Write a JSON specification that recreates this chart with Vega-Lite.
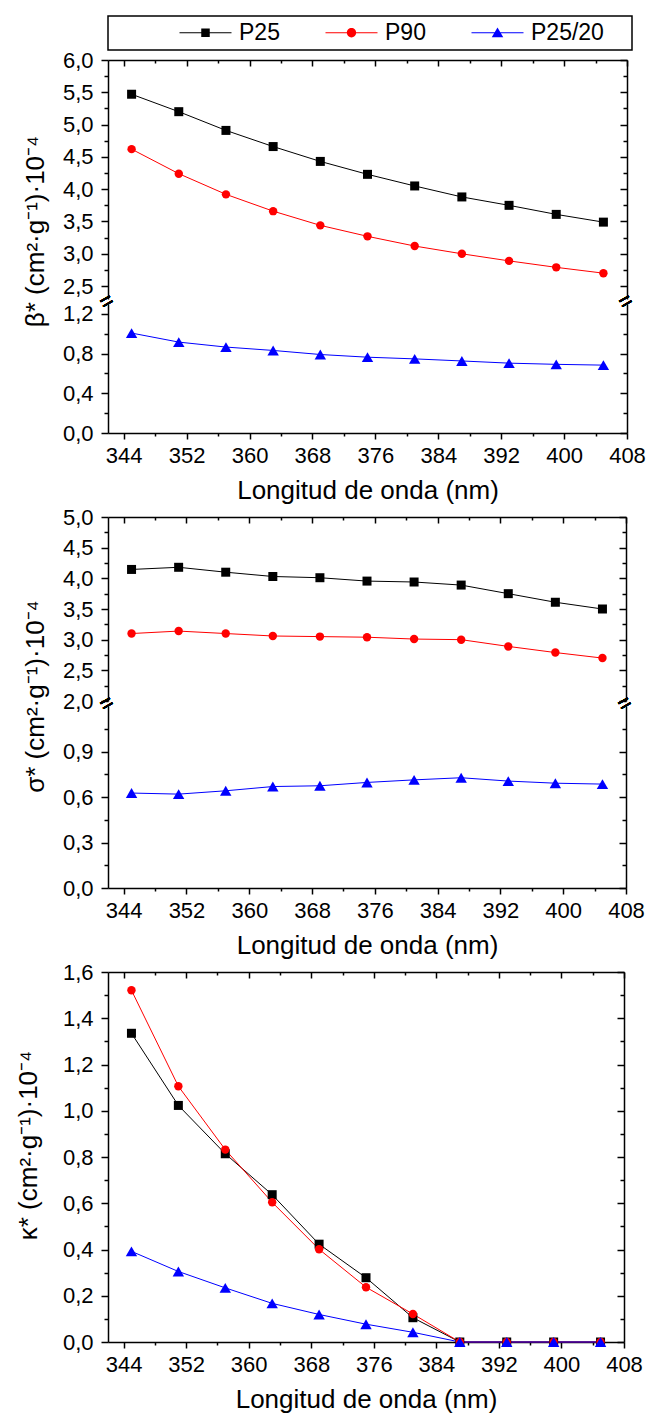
{
  "$schema": "https://vega.github.io/schema/vega-lite/v6.json",
  "background": "white",
  "padding": {"left": 15, "top": 15, "right": 5, "bottom": 5},
  "datasets": {
    "beta": [
      {"wl": 345, "series": "P25", "value": 5.47}, {"wl": 351, "series": "P25", "value": 5.20}, {"wl": 357, "series": "P25", "value": 4.91}, {"wl": 363, "series": "P25", "value": 4.66}, {"wl": 369, "series": "P25", "value": 4.43}, {"wl": 375, "series": "P25", "value": 4.23}, {"wl": 381, "series": "P25", "value": 4.05}, {"wl": 387, "series": "P25", "value": 3.88}, {"wl": 393, "series": "P25", "value": 3.75}, {"wl": 399, "series": "P25", "value": 3.61}, {"wl": 405, "series": "P25", "value": 3.49},
      {"wl": 345, "series": "P90", "value": 4.62}, {"wl": 351, "series": "P90", "value": 4.24}, {"wl": 357, "series": "P90", "value": 3.92}, {"wl": 363, "series": "P90", "value": 3.66}, {"wl": 369, "series": "P90", "value": 3.44}, {"wl": 375, "series": "P90", "value": 3.27}, {"wl": 381, "series": "P90", "value": 3.12}, {"wl": 387, "series": "P90", "value": 3.00}, {"wl": 393, "series": "P90", "value": 2.89}, {"wl": 399, "series": "P90", "value": 2.79}, {"wl": 405, "series": "P90", "value": 2.70},
      {"wl": 345, "series": "P25/20", "value": 1.007}, {"wl": 351, "series": "P25/20", "value": 0.916}, {"wl": 357, "series": "P25/20", "value": 0.866}, {"wl": 363, "series": "P25/20", "value": 0.832}, {"wl": 369, "series": "P25/20", "value": 0.791}, {"wl": 375, "series": "P25/20", "value": 0.764}, {"wl": 381, "series": "P25/20", "value": 0.747}, {"wl": 387, "series": "P25/20", "value": 0.726}, {"wl": 393, "series": "P25/20", "value": 0.704}, {"wl": 399, "series": "P25/20", "value": 0.692}, {"wl": 405, "series": "P25/20", "value": 0.684}
    ],
    "sigma": [
      {"wl": 345, "series": "P25", "value": 4.145}, {"wl": 351, "series": "P25", "value": 4.18}, {"wl": 357, "series": "P25", "value": 4.10}, {"wl": 363, "series": "P25", "value": 4.03}, {"wl": 369, "series": "P25", "value": 4.01}, {"wl": 375, "series": "P25", "value": 3.955}, {"wl": 381, "series": "P25", "value": 3.94}, {"wl": 387, "series": "P25", "value": 3.89}, {"wl": 393, "series": "P25", "value": 3.75}, {"wl": 399, "series": "P25", "value": 3.61}, {"wl": 405, "series": "P25", "value": 3.50},
      {"wl": 345, "series": "P90", "value": 3.10}, {"wl": 351, "series": "P90", "value": 3.14}, {"wl": 357, "series": "P90", "value": 3.10}, {"wl": 363, "series": "P90", "value": 3.06}, {"wl": 369, "series": "P90", "value": 3.05}, {"wl": 375, "series": "P90", "value": 3.04}, {"wl": 381, "series": "P90", "value": 3.01}, {"wl": 387, "series": "P90", "value": 3.00}, {"wl": 393, "series": "P90", "value": 2.89}, {"wl": 399, "series": "P90", "value": 2.79}, {"wl": 405, "series": "P90", "value": 2.70},
      {"wl": 345, "series": "P25/20", "value": 0.626}, {"wl": 351, "series": "P25/20", "value": 0.619}, {"wl": 357, "series": "P25/20", "value": 0.641}, {"wl": 363, "series": "P25/20", "value": 0.669}, {"wl": 369, "series": "P25/20", "value": 0.674}, {"wl": 375, "series": "P25/20", "value": 0.696}, {"wl": 381, "series": "P25/20", "value": 0.713}, {"wl": 387, "series": "P25/20", "value": 0.727}, {"wl": 393, "series": "P25/20", "value": 0.705}, {"wl": 399, "series": "P25/20", "value": 0.691}, {"wl": 405, "series": "P25/20", "value": 0.685}
    ],
    "kappa": [
      {"wl": 345, "series": "P25", "value": 1.335}, {"wl": 351, "series": "P25", "value": 1.023}, {"wl": 357, "series": "P25", "value": 0.814}, {"wl": 363, "series": "P25", "value": 0.637}, {"wl": 369, "series": "P25", "value": 0.423}, {"wl": 375, "series": "P25", "value": 0.278}, {"wl": 381, "series": "P25", "value": 0.105}, {"wl": 387, "series": "P25", "value": 0}, {"wl": 393, "series": "P25", "value": 0}, {"wl": 399, "series": "P25", "value": 0}, {"wl": 405, "series": "P25", "value": 0},
      {"wl": 345, "series": "P90", "value": 1.521}, {"wl": 351, "series": "P90", "value": 1.106}, {"wl": 357, "series": "P90", "value": 0.832}, {"wl": 363, "series": "P90", "value": 0.604}, {"wl": 369, "series": "P90", "value": 0.401}, {"wl": 375, "series": "P90", "value": 0.237}, {"wl": 381, "series": "P90", "value": 0.121}, {"wl": 387, "series": "P90", "value": 0}, {"wl": 393, "series": "P90", "value": 0}, {"wl": 399, "series": "P90", "value": 0}, {"wl": 405, "series": "P90", "value": 0},
      {"wl": 345, "series": "P25/20", "value": 0.392}, {"wl": 351, "series": "P25/20", "value": 0.305}, {"wl": 357, "series": "P25/20", "value": 0.234}, {"wl": 363, "series": "P25/20", "value": 0.167}, {"wl": 369, "series": "P25/20", "value": 0.119}, {"wl": 375, "series": "P25/20", "value": 0.077}, {"wl": 381, "series": "P25/20", "value": 0.042}, {"wl": 387, "series": "P25/20", "value": 0}, {"wl": 393, "series": "P25/20", "value": 0}, {"wl": 399, "series": "P25/20", "value": 0}, {"wl": 405, "series": "P25/20", "value": 0}
    ]
  },
  "spacing": 3,
  "resolve": {"scale": {"color": "independent"}, "legend": {"color": "independent"}},
  "vconcat": [
    {
      "bounds": "flush",
      "spacing": 5,
      "resolve": {"scale": {"color": "independent"}, "legend": {"color": "independent"}},
      "vconcat": [
        {
          "width": 519, "height": 239,
          "data": {"name": "beta"},
          "resolve": {"axis": {"x": "independent", "y": "independent"}},
          "layer": [
            {
              "transform": [{"filter": "datum.series !== 'P25/20'"}],
              "mark": {"type": "line", "strokeWidth": 1},
              "encoding": {
                "x": {"field": "wl", "type": "quantitative", "scale": {"domain": [342, 408], "nice": false, "zero": false}, "axis": null},
                "y": {"field": "value", "type": "quantitative", "scale": {"domain": [2.3, 6.0], "nice": false, "zero": false},
                  "axis": {"orient": "left", "values": [2.5, 2.75, 3, 3.25, 3.5, 3.75, 4, 4.25, 4.5, 4.75, 5, 5.25, 5.5, 5.75, 6],
                    "labelExpr": "abs(datum.value*2-round(datum.value*2))<0.001 ? replace(format(datum.value,'.1f'),'.',',') : ''",
                    "tickSize": {"condition": {"test": "abs(datum.value*2-round(datum.value*2))<0.001", "value": 7}, "value": 4},
                    "labelPadding": 8, "title": "β* (cm²·g⁻¹)·10⁻⁴", "titlePadding": 14, "titleY": 171}},
                "color": {"field": "series", "type": "nominal",
                  "scale": {"domain": ["P25", "P90", "P25/20"], "range": ["#000000", "#ff0000", "#0000ff"]},
                  "legend": {
                    "orient": "none", "legendX": 0, "legendY": -44, "direction": "horizontal",
                    "title": " ", "titleOrient": "left", "titleFontSize": 10, "titlePadding": 81,
                    "strokeColor": "#000000", "padding": 5, "symbolSize": 100,
                    "labelFont": "Liberation Sans", "labelFontSize": 23, "labelColor": "#000000",
                    "labelOffset": 22, "columnPadding": 45,
                    "encode": {
                      "legend": {"update": {"stroke": {"value": "#000000"}, "strokeWidth": {"value": 1.5}}},
                      "labels": {"update": {"text": {"signal": "datum.label === 'P25/20' ? datum.label + '\u2002\u2002\u200b' : datum.label"}}},
                      "symbols": {"update": {
                        "shape": {"signal": "datum.value === 'P25' ? 'M-5.2,-0.1H5.2V0.1H-5.2ZM-0.85,-0.85H0.85V0.85H-0.85Z' : datum.value === 'P90' ? 'M-5.2,-0.1H5.2V0.1H-5.2ZM0.93,0A0.93,0.93,0,1,1,-0.93,0A0.93,0.93,0,1,1,0.93,0Z' : 'M-5.2,-0.1H5.2V0.1H-5.2ZM0,-1.05L1.15,0.9H-1.15Z'"},
                        "fill": {"signal": "datum.value === 'P25' ? '#000000' : datum.value === 'P90' ? '#ff0000' : '#0000ff'"},
                        "strokeWidth": {"value": 0},
                        "opacity": {"value": 1},
                        "fillOpacity": {"value": 1}
                      }}
                    }
                  }}
              }
            },
            {
              "transform": [{"filter": "datum.series === 'P25'"}],
              "mark": {"type": "point", "shape": "square", "filled": true, "color": "#000000", "size": 81, "opacity": 1, "strokeWidth": 0},
              "encoding": {
                "x": {"field": "wl", "type": "quantitative", "scale": {"domain": [342, 408], "nice": false, "zero": false},
                  "axis": {"orient": "top", "values": [344, 348, 352, 356, 360, 364, 368, 372, 376, 380, 384, 388, 392, 396, 400, 404, 408], "labels": false, "title": null,
                    "tickSize": {"condition": {"test": "datum.value % 8 === 0", "value": -6}, "value": -3}}},
                "y": {"field": "value", "type": "quantitative", "scale": {"domain": [2.3, 6.0], "nice": false, "zero": false},
                  "axis": {"orient": "right", "values": [2.5, 2.75, 3, 3.25, 3.5, 3.75, 4, 4.25, 4.5, 4.75, 5, 5.25, 5.5, 5.75, 6], "labels": false, "title": null,
                    "tickSize": {"condition": {"test": "abs(datum.value*2-round(datum.value*2))<0.001", "value": -7}, "value": -4}}}
              }
            },
            {
              "transform": [{"filter": "datum.series === 'P90'"}],
              "mark": {"type": "point", "shape": "circle", "filled": true, "color": "#ff0000", "size": 71, "opacity": 1, "strokeWidth": 0},
              "encoding": {
                "x": {"field": "wl", "type": "quantitative", "scale": {"domain": [342, 408], "nice": false, "zero": false}, "axis": null},
                "y": {"field": "value", "type": "quantitative", "scale": {"domain": [2.3, 6.0], "nice": false, "zero": false}, "axis": null}
              }
            }
          ]
        },
        {
          "width": 519, "height": 129,
          "data": {"name": "beta"},
          "transform": [{"filter": "datum.series === 'P25/20'"}],
          "resolve": {"axis": {"x": "independent", "y": "independent"}},
          "layer": [
            {
              "mark": {"type": "line", "strokeWidth": 1, "color": "#0000ff"},
              "encoding": {
                "x": {"field": "wl", "type": "quantitative", "scale": {"domain": [342, 408], "nice": false, "zero": false},
                  "axis": {"orient": "bottom", "values": [344, 348, 352, 356, 360, 364, 368, 372, 376, 380, 384, 388, 392, 396, 400, 404, 408], "format": "d",
                    "labelExpr": "datum.value % 8 === 0 ? datum.label : ''",
                    "tickSize": {"condition": {"test": "datum.value % 8 === 0", "value": 6}, "value": 3},
                    "labelPadding": 6, "title": "Longitud de onda (nm)", "titlePadding": 11}},
                "y": {"field": "value", "type": "quantitative", "scale": {"domain": [0, 1.3], "nice": false, "zero": false},
                  "axis": {"orient": "left", "values": [0, 0.2, 0.4, 0.6, 0.8, 1.0, 1.2],
                    "labelExpr": "abs(datum.value/0.4-round(datum.value/0.4))<0.001 ? replace(format(datum.value,'.1f'),'.',',') : ''",
                    "tickSize": {"condition": {"test": "abs(datum.value/0.4-round(datum.value/0.4))<0.001", "value": 7}, "value": 4},
                    "labelPadding": 8, "title": null}}
              }
            },
            {
              "mark": {"type": "point", "shape": "triangle-up", "filled": true, "color": "#0000ff", "size": 130, "opacity": 1, "strokeWidth": 0},
              "encoding": {
                "x": {"field": "wl", "type": "quantitative", "scale": {"domain": [342, 408], "nice": false, "zero": false}, "axis": null},
                "y": {"field": "value", "type": "quantitative", "scale": {"domain": [0, 1.3], "nice": false, "zero": false},
                  "axis": {"orient": "right", "values": [0, 0.2, 0.4, 0.6, 0.8, 1.0, 1.2], "labels": false, "title": null,
                    "tickSize": {"condition": {"test": "abs(datum.value/0.4-round(datum.value/0.4))<0.001", "value": -7}, "value": -4}}}
              }
            },
            {
              "mark": {"type": "text", "text": "=", "angle": -30, "fontSize": 22, "font": "Liberation Sans", "color": "#000000", "dy": -3},
              "encoding": {
                "x": {"datum": 342, "type": "quantitative", "axis": null},
                "y": {"datum": 1.3, "type": "quantitative", "axis": null}
              }
            },
            {
              "mark": {"type": "text", "text": "=", "angle": -30, "fontSize": 22, "font": "Liberation Sans", "color": "#000000", "dy": -3},
              "encoding": {
                "x": {"datum": 408, "type": "quantitative", "axis": null},
                "y": {"datum": 1.3, "type": "quantitative", "axis": null}
              }
            }
          ]
        }
      ]
    },
    {
      "bounds": "flush",
      "spacing": 5,
      "vconcat": [
        {
          "width": 518, "height": 184,
          "data": {"name": "sigma"},
          "resolve": {"axis": {"x": "independent", "y": "independent"}},
          "layer": [
            {
              "transform": [{"filter": "datum.series === 'P25'"}],
              "mark": {"type": "line", "strokeWidth": 1, "color": "#000000"},
              "encoding": {
                "x": {"field": "wl", "type": "quantitative", "scale": {"domain": [342, 408], "nice": false, "zero": false}, "axis": null},
                "y": {"field": "value", "type": "quantitative", "scale": {"domain": [2.0, 5.0], "nice": false, "zero": false},
                  "axis": {"orient": "left", "values": [2, 2.25, 2.5, 2.75, 3, 3.25, 3.5, 3.75, 4, 4.25, 4.5, 4.75, 5],
                    "labelExpr": "abs(datum.value*2-round(datum.value*2))<0.001 ? replace(format(datum.value,'.1f'),'.',',') : ''",
                    "tickSize": {"condition": {"test": "abs(datum.value*2-round(datum.value*2))<0.001", "value": 7}, "value": 4},
                    "labelPadding": 8, "title": "σ* (cm²·g⁻¹)·10⁻⁴", "titlePadding": 14, "titleY": 179}}
              }
            },
            {
              "transform": [{"filter": "datum.series === 'P90'"}],
              "mark": {"type": "line", "strokeWidth": 1, "color": "#ff0000"},
              "encoding": {
                "x": {"field": "wl", "type": "quantitative", "scale": {"domain": [342, 408], "nice": false, "zero": false},
                  "axis": {"orient": "top", "values": [344, 348, 352, 356, 360, 364, 368, 372, 376, 380, 384, 388, 392, 396, 400, 404, 408], "labels": false, "title": null,
                    "tickSize": {"condition": {"test": "datum.value % 8 === 0", "value": -6}, "value": -3}}},
                "y": {"field": "value", "type": "quantitative", "scale": {"domain": [2.0, 5.0], "nice": false, "zero": false},
                  "axis": {"orient": "right", "values": [2, 2.25, 2.5, 2.75, 3, 3.25, 3.5, 3.75, 4, 4.25, 4.5, 4.75, 5], "labels": false, "title": null,
                    "tickSize": {"condition": {"test": "abs(datum.value*2-round(datum.value*2))<0.001", "value": -7}, "value": -4}}}
              }
            },
            {
              "transform": [{"filter": "datum.series === 'P25'"}],
              "mark": {"type": "point", "shape": "square", "filled": true, "color": "#000000", "size": 81, "opacity": 1, "strokeWidth": 0},
              "encoding": {
                "x": {"field": "wl", "type": "quantitative", "scale": {"domain": [342, 408], "nice": false, "zero": false}, "axis": null},
                "y": {"field": "value", "type": "quantitative", "scale": {"domain": [2.0, 5.0], "nice": false, "zero": false}, "axis": null}
              }
            },
            {
              "transform": [{"filter": "datum.series === 'P90'"}],
              "mark": {"type": "point", "shape": "circle", "filled": true, "color": "#ff0000", "size": 71, "opacity": 1, "strokeWidth": 0},
              "encoding": {
                "x": {"field": "wl", "type": "quantitative", "scale": {"domain": [342, 408], "nice": false, "zero": false}, "axis": null},
                "y": {"field": "value", "type": "quantitative", "scale": {"domain": [2.0, 5.0], "nice": false, "zero": false}, "axis": null}
              }
            }
          ]
        },
        {
          "width": 518, "height": 182,
          "data": {"name": "sigma"},
          "transform": [{"filter": "datum.series === 'P25/20'"}],
          "resolve": {"axis": {"x": "independent", "y": "independent"}},
          "layer": [
            {
              "mark": {"type": "line", "strokeWidth": 1, "color": "#0000ff"},
              "encoding": {
                "x": {"field": "wl", "type": "quantitative", "scale": {"domain": [342, 408], "nice": false, "zero": false},
                  "axis": {"orient": "bottom", "values": [344, 348, 352, 356, 360, 364, 368, 372, 376, 380, 384, 388, 392, 396, 400, 404, 408], "format": "d",
                    "labelExpr": "datum.value % 8 === 0 ? datum.label : ''",
                    "tickSize": {"condition": {"test": "datum.value % 8 === 0", "value": 6}, "value": 3},
                    "labelPadding": 6, "title": "Longitud de onda (nm)", "titlePadding": 11}},
                "y": {"field": "value", "type": "quantitative", "scale": {"domain": [0, 1.2], "nice": false, "zero": false},
                  "axis": {"orient": "left", "values": [0, 0.15, 0.3, 0.45, 0.6, 0.75, 0.9, 1.05],
                    "labelExpr": "abs(datum.value/0.3-round(datum.value/0.3))<0.001 ? replace(format(datum.value,'.1f'),'.',',') : ''",
                    "tickSize": {"condition": {"test": "abs(datum.value/0.3-round(datum.value/0.3))<0.001", "value": 7}, "value": 4},
                    "labelPadding": 8, "title": null}}
              }
            },
            {
              "mark": {"type": "point", "shape": "triangle-up", "filled": true, "color": "#0000ff", "size": 130, "opacity": 1, "strokeWidth": 0},
              "encoding": {
                "x": {"field": "wl", "type": "quantitative", "scale": {"domain": [342, 408], "nice": false, "zero": false}, "axis": null},
                "y": {"field": "value", "type": "quantitative", "scale": {"domain": [0, 1.2], "nice": false, "zero": false},
                  "axis": {"orient": "right", "values": [0, 0.15, 0.3, 0.45, 0.6, 0.75, 0.9, 1.05], "labels": false, "title": null,
                    "tickSize": {"condition": {"test": "abs(datum.value/0.3-round(datum.value/0.3))<0.001", "value": -7}, "value": -4}}}
              }
            },
            {
              "mark": {"type": "text", "text": "=", "angle": -30, "fontSize": 22, "font": "Liberation Sans", "color": "#000000", "dy": -3},
              "encoding": {
                "x": {"datum": 342, "type": "quantitative", "axis": null},
                "y": {"datum": 1.2, "type": "quantitative", "axis": null}
              }
            },
            {
              "mark": {"type": "text", "text": "=", "angle": -30, "fontSize": 22, "font": "Liberation Sans", "color": "#000000", "dy": -3},
              "encoding": {
                "x": {"datum": 408, "type": "quantitative", "axis": null},
                "y": {"datum": 1.2, "type": "quantitative", "axis": null}
              }
            }
          ]
        }
      ]
    },
    {
      "width": 516, "height": 370,
      "data": {"name": "kappa"},
      "resolve": {"axis": {"x": "independent", "y": "independent"}},
      "layer": [
        {
          "transform": [{"filter": "datum.series === 'P25'"}],
          "mark": {"type": "line", "strokeWidth": 1, "color": "#000000"},
          "encoding": {
            "x": {"field": "wl", "type": "quantitative", "scale": {"domain": [342, 408], "nice": false, "zero": false},
              "axis": {"orient": "bottom", "values": [344, 348, 352, 356, 360, 364, 368, 372, 376, 380, 384, 388, 392, 396, 400, 404, 408], "format": "d",
                "labelExpr": "datum.value % 8 === 0 ? datum.label : ''",
                "tickSize": {"condition": {"test": "datum.value % 8 === 0", "value": 6}, "value": 3},
                "labelPadding": 6, "title": "Longitud de onda (nm)", "titlePadding": 11}},
            "y": {"field": "value", "type": "quantitative", "scale": {"domain": [0, 1.6], "nice": false, "zero": false},
              "axis": {"orient": "left", "values": [0, 0.1, 0.2, 0.3, 0.4, 0.5, 0.6, 0.7, 0.8, 0.9, 1.0, 1.1, 1.2, 1.3, 1.4, 1.5, 1.6],
                "labelExpr": "abs(datum.value/0.2-round(datum.value/0.2))<0.001 ? replace(format(datum.value,'.1f'),'.',',') : ''",
                "tickSize": {"condition": {"test": "abs(datum.value/0.2-round(datum.value/0.2))<0.001", "value": 7}, "value": 4},
                "labelPadding": 8, "title": "κ* (cm²·g⁻¹)·10⁻⁴", "titlePadding": 21, "titleY": 173}}
          }
        },
        {
          "transform": [{"filter": "datum.series === 'P90'"}],
          "mark": {"type": "line", "strokeWidth": 1, "color": "#ff0000"},
          "encoding": {
            "x": {"field": "wl", "type": "quantitative", "scale": {"domain": [342, 408], "nice": false, "zero": false},
              "axis": {"orient": "top", "values": [344, 348, 352, 356, 360, 364, 368, 372, 376, 380, 384, 388, 392, 396, 400, 404, 408], "labels": false, "title": null,
                "tickSize": {"condition": {"test": "datum.value % 8 === 0", "value": -6}, "value": -3}}},
            "y": {"field": "value", "type": "quantitative", "scale": {"domain": [0, 1.6], "nice": false, "zero": false},
              "axis": {"orient": "right", "values": [0, 0.1, 0.2, 0.3, 0.4, 0.5, 0.6, 0.7, 0.8, 0.9, 1.0, 1.1, 1.2, 1.3, 1.4, 1.5, 1.6], "labels": false, "title": null,
                "tickSize": {"condition": {"test": "abs(datum.value/0.2-round(datum.value/0.2))<0.001", "value": -7}, "value": -4}}}
          }
        },
        {
          "transform": [{"filter": "datum.series === 'P25/20'"}],
          "mark": {"type": "line", "strokeWidth": 1, "color": "#0000ff"},
          "encoding": {
            "x": {"field": "wl", "type": "quantitative", "scale": {"domain": [342, 408], "nice": false, "zero": false}, "axis": null},
            "y": {"field": "value", "type": "quantitative", "scale": {"domain": [0, 1.6], "nice": false, "zero": false}, "axis": null}
          }
        },
        {
          "transform": [{"filter": "datum.series === 'P25'"}],
          "mark": {"type": "point", "shape": "square", "filled": true, "color": "#000000", "size": 81, "opacity": 1, "strokeWidth": 0},
          "encoding": {
            "x": {"field": "wl", "type": "quantitative", "scale": {"domain": [342, 408], "nice": false, "zero": false}, "axis": null},
            "y": {"field": "value", "type": "quantitative", "scale": {"domain": [0, 1.6], "nice": false, "zero": false}, "axis": null}
          }
        },
        {
          "transform": [{"filter": "datum.series === 'P90'"}],
          "mark": {"type": "point", "shape": "circle", "filled": true, "color": "#ff0000", "size": 71, "opacity": 1, "strokeWidth": 0},
          "encoding": {
            "x": {"field": "wl", "type": "quantitative", "scale": {"domain": [342, 408], "nice": false, "zero": false}, "axis": null},
            "y": {"field": "value", "type": "quantitative", "scale": {"domain": [0, 1.6], "nice": false, "zero": false}, "axis": null}
          }
        },
        {
          "transform": [{"filter": "datum.series === 'P25/20'"}],
          "mark": {"type": "point", "shape": "triangle-up", "filled": true, "color": "#0000ff", "size": 130, "opacity": 1, "strokeWidth": 0},
          "encoding": {
            "x": {"field": "wl", "type": "quantitative", "scale": {"domain": [342, 408], "nice": false, "zero": false}, "axis": null},
            "y": {"field": "value", "type": "quantitative", "scale": {"domain": [0, 1.6], "nice": false, "zero": false}, "axis": null}
          }
        }
      ]
    }
  ],
  "config": {
    "view": {"stroke": null},
    "font": "Liberation Sans",
    "axis": {
      "domainColor": "#000000", "domainWidth": 1.5, "tickColor": "#000000", "tickWidth": 1.5,
      "labelFont": "Liberation Sans", "labelFontSize": 22, "labelColor": "#000000",
      "titleFont": "Liberation Sans", "titleFontSize": 26, "titleFontWeight": "normal", "titleColor": "#000000",
      "grid": false, "labelFlush": false, "labelOverlap": false
    }
  }
}
